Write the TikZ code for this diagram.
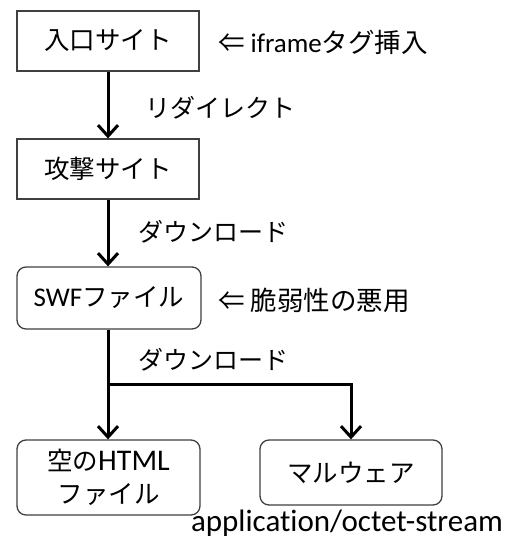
\documentclass[tikz,border=0pt]{standalone}
\usepackage{fontspec}
\setmainfont{Carlito}[Ligatures=NoCommon]
\newfontfamily\cjk{Noto Sans CJK JP}
\newfontfamily\calfont{Carlito}[Ligatures=NoCommon]
\newcommand{\lat}[2]{{\calfont\fontsize{#1}{#1}\selectfont #2}}
\usetikzlibrary{arrows.meta}
\begin{document}
\begin{tikzpicture}[x=1pt,y=-1pt,
  box/.style={draw=black!75,line width=1.3pt,fill=white,inner sep=0pt,align=center,font=\cjk\fontsize{25.5}{33}\selectfont},
  rbox/.style={box,rounded corners=9pt},
  lbl/.style={anchor=west,inner sep=0pt,font=\cjk\fontsize{25}{30}\selectfont},
  flow/.style={line width=3pt,-{Straight Barb[length=11pt,width=20pt,line width=3pt]}}]
\useasboundingbox (0,0) rectangle (513,538);
\node[box,minimum width=182pt,minimum height=60pt] (b1) at (108,41) {入口サイト};
\node[box,minimum width=182pt,minimum height=60pt] (b2) at (108,169) {攻撃サイト};
\node[rbox,minimum width=184pt,minimum height=62pt] (b3) at (109,298) {\lat{27}{SWF}ファイル};
\node[rbox,minimum width=183pt,minimum height=75pt] (b4) at (108.5,477.5) {空の\lat{30}{HTML}\\ファイル};
\node[rbox,minimum width=182pt,minimum height=65pt] (b5) at (351,472.5) {マルウェア};
\coordinate (j) at (108,384);
\draw[flow] (b1.south) -- (b2.north);
\draw[flow] (b2.south) -- (b3.north -| b2.south);
\draw[line width=3pt] (b3.south -| j) -- (j);
\draw[flow] (j) -- (b4.north -| j);
\draw[flow] (j) -| (b5.north);
\node[lbl,font=\cjk\fontsize{26.5}{30}\selectfont] (t1) at (218,42) {⇐ \lat{27}{iframe}タグ挿入};
\node[lbl] (t2) at (145,108) {リダイレクト};
\node[lbl] (t3) at (138,232) {ダウンロード};
\node[lbl,font=\cjk\fontsize{26.5}{30}\selectfont] (t4) at (218,300) {⇐ 脆弱性の悪用};
\node[lbl] (t5) at (138,360) {ダウンロード};
\node[inner sep=0pt,font=\calfont\fontsize{31}{34}\selectfont] (t6) at (347,523) {application/octet-stream};
\end{tikzpicture}
\end{document}
